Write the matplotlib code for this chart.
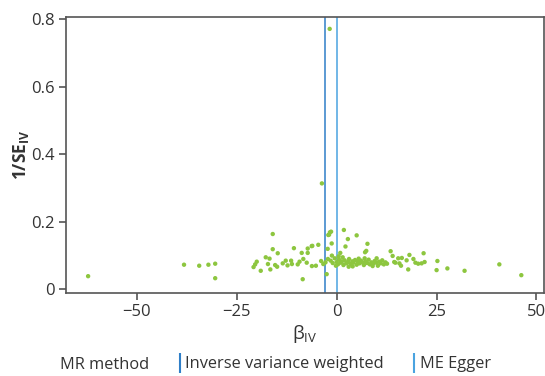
import matplotlib.pyplot as plt
from matplotlib.lines import Line2D

plt.rcParams['font.family'] = ['Open Sans', 'DejaVu Sans']
plt.rcParams['mathtext.fontset'] = 'custom'
plt.rcParams['mathtext.rm'] = 'Open Sans'
plt.rcParams['mathtext.bf'] = 'Open Sans:bold'

# SNP-level estimates (beta_IV, 1/SE_IV)
beta_iv = [
    -62.2, -38.2, -34.4, -32.1, -30.4, -30.4,
    -20.0, -20.4, -20.8, -19.0, -17.75, -17.2, -16.8, -16.6, -16.0, -16.0,
    -15.4, -14.9, -14.75, -13.5, -12.75, -12.3, -11.4, -11.2, -10.7, -9.75,
    -9.3, -8.75, -8.5, -8.35, -7.5, -7.25, -7.25, -6.25, -6.2, -6.1, -5.2,
    -4.6, -3.9, -3.7, -3.35, -2.5, -2.25, -2.2, -2.1, -1.9, -1.75, -1.7,
    -1.4, -1.25, -1.2,
    -1.5, -1.0, -0.5, 0.0, 0.3, 0.6, 1.0, 1.3, 1.7, 2.0, 2.4, 2.8, 3.1, 3.5,
    3.9, 4.2, 4.6, 5.0, 5.3, 5.7, 6.1, 6.4, 6.8, 7.2, 7.6, 8.0, 8.3, 8.7,
    9.1, 9.5, 9.9, 10.3, 10.6, 11.0, 11.4, 11.8, 12.2, 12.6, -2.8, -0.2,
    1.5, 4.0, 7.0, 9.0, 10.0, 3.0, 5.5, 0.5, 0.9,
    1.8, 2.2, 2.8, 5.0, 7.1, 7.4, 7.7,
    13.5, 14.0, 14.4, 14.7, 15.4, 15.7, 16.1, 16.3, 17.5, 17.9, 18.2,
    19.2, 19.7, 20.4, 21.25, 21.75, 22.0,
    25.0, 25.2, 27.7, 32.0, 40.7, 46.2,
]
inv_se = [
    0.039, 0.073, 0.070, 0.073, 0.076, 0.033,
    0.082, 0.074, 0.066, 0.055, 0.095, 0.075, 0.091, 0.059, 0.164, 0.119,
    0.072, 0.067, 0.107, 0.077, 0.085, 0.071, 0.085, 0.075, 0.122, 0.074,
    0.082, 0.108, 0.030, 0.090, 0.079, 0.121, 0.108, 0.128, 0.069, 0.129, 0.070,
    0.132, 0.084, 0.314, 0.075, 0.045, 0.120, 0.090, 0.161, 0.162, 0.772, 0.169,
    0.171, 0.136, 0.100,
    0.085, 0.078, 0.092, 0.081, 0.074, 0.088, 0.079, 0.083, 0.072, 0.086, 0.077,
    0.081, 0.090, 0.075, 0.083, 0.079, 0.087, 0.073, 0.081, 0.077, 0.085, 0.080,
    0.072, 0.083, 0.078, 0.088, 0.074, 0.080, 0.076, 0.084, 0.079, 0.070, 0.082,
    0.077, 0.086, 0.074, 0.080, 0.076, 0.080, 0.070, 0.095, 0.068, 0.092, 0.069,
    0.092, 0.067, 0.091, 0.098, 0.108,
    0.176, 0.127, 0.149, 0.160, 0.110, 0.114, 0.135,
    0.113, 0.099, 0.081, 0.079, 0.092, 0.077, 0.070, 0.093, 0.086, 0.059, 0.102,
    0.090, 0.079, 0.076, 0.077, 0.107, 0.081,
    0.057, 0.084, 0.062, 0.055, 0.074, 0.042,
]

# MR estimates drawn as vertical lines
methods = ['Inverse variance weighted', 'ME Egger']
method_beta = [-3.0, 0.05]
method_colors = ['#2f7fc8', '#4aa3e0']

xticks = [-50, -25, 0, 25, 50]
xticklabels = ['\u221250', '\u221225', '0', '25', '50']
yticks = [0, 0.2, 0.4, 0.6, 0.8]
yticklabels = ['0', '0.2', '0.4', '0.6', '0.8']

text_col = '#333333'
spine_col = '#555555'

fig = plt.figure(figsize=(5.45, 3.76), dpi=100)
ax = fig.add_axes([0.1206, 0.2215, 0.877, 0.734])

ax.scatter(beta_iv, inv_se, s=10, color='#8dc63f', edgecolors='none', zorder=3)
for b, c in zip(method_beta, method_colors):
    ax.axvline(b, color=c, lw=1.1, zorder=2)

ax.set_xlim(-67.8, 51.8)
ax.set_ylim(-0.01, 0.808)
ax.set_xticks(xticks)
ax.set_xticklabels(xticklabels)
ax.set_yticks(yticks)
ax.set_yticklabels(yticklabels)

for s in ax.spines.values():
    s.set_color(spine_col)
    s.set_linewidth(1.2)
ax.tick_params(colors=spine_col, labelcolor=text_col, labelsize=12,
               length=5, width=1.2, pad=3)

ax.set_xlabel('\u03b2$_{\\mathrm{IV}}$', fontsize=13.5, color=text_col, labelpad=2)
ax.set_ylabel(r'$\mathbf{1/SE}_{\mathbf{IV}}$', fontsize=12.5, color=text_col, labelpad=0)

handles = [Line2D([], [], color=c, marker='|', linestyle='None', markersize=14,
                  markeredgewidth=1.5) for c in method_colors]
fig.text(0.11, 0.029, 'MR method', fontsize=11.8, color=text_col, va='center')
leg = fig.legend(handles, methods, loc='center left', bbox_to_anchor=(0.322, 0.031),
                 ncol=2, frameon=False, fontsize=11.8, handlelength=0.5,
                 handletextpad=0.1, columnspacing=1.6, borderpad=0, borderaxespad=0)
for t in leg.get_texts():
    t.set_color(text_col)

fig.savefig('out.png', dpi=100)
